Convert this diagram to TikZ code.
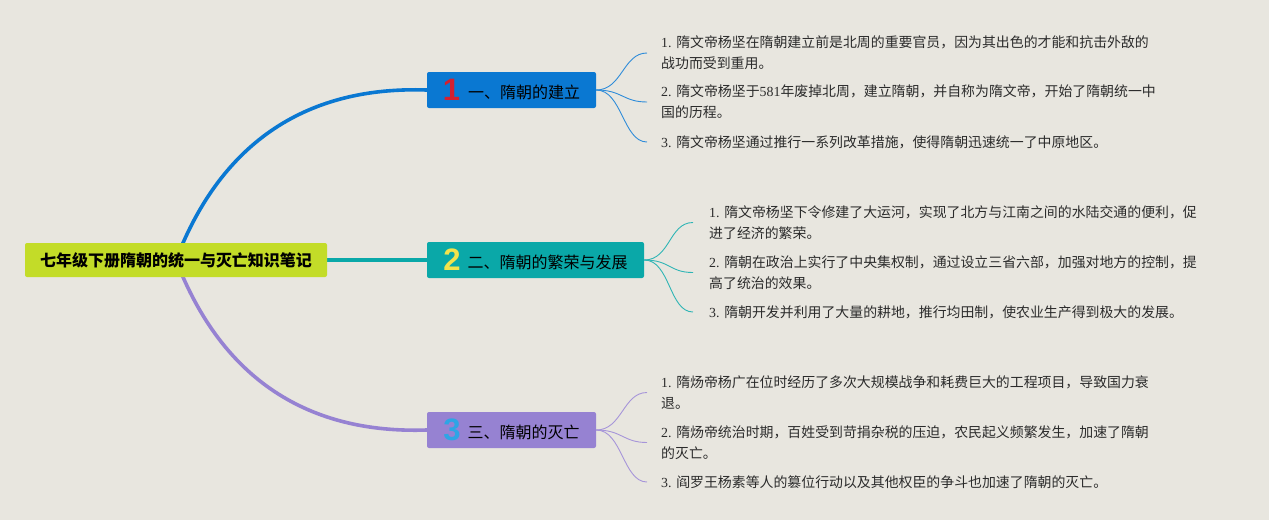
\documentclass[tikz,border=0pt]{standalone}
\usepackage{fontspec}
\setmainfont{Liberation Serif}
\newfontfamily\cjk{Noto Sans CJK SC}
\newfontfamily\numfont{Liberation Sans}
\usetikzlibrary{backgrounds}
\newcommand\latn[1]{{\rmfamily #1}}
\definecolor{bgc}{HTML}{E8E6DF}
\definecolor{rootc}{HTML}{C3DC28}
\definecolor{bluec}{HTML}{0A78D2}
\definecolor{tealc}{HTML}{0AA8A8}
\definecolor{purpc}{HTML}{9682D2}
\definecolor{redn}{HTML}{D42030}
\definecolor{yeln}{HTML}{F2E34C}
\definecolor{bluen}{HTML}{2EA5E5}
\definecolor{txt}{HTML}{2B2B2B}
\begin{document}
\begin{tikzpicture}[x=1pt,y=-1pt,
  rootbox/.style={fill=rootc, rounded corners=2pt, minimum width=302pt, minimum height=34pt, inner sep=0pt,
    font=\cjk\bfseries\fontsize{16}{18}\selectfont, text=black},
  branchbox/.style={rounded corners=2pt, minimum height=36pt, inner sep=0pt,
    font=\cjk\fontsize{16}{18}\selectfont, text=black},
  leaf/.style={anchor=west, align=left, inner sep=0pt, text=txt,
    font=\cjk\fontsize{13.9}{20.8}\selectfont},
  mainline/.style={line width=3.6pt},
  leafline/.style={line width=0.9pt}
]
\useasboundingbox (0,0) rectangle (1269,520);
% root
\node[rootbox] (root) at (176,260) {七年级下册隋朝的统一与灭亡知识笔记};
% branches
\node[branchbox, fill=bluec, minimum width=169pt] (b1) at (511.5,90)
  {\raisebox{-2pt}{\textcolor{redn}{\numfont\bfseries\fontsize{31}{31}\selectfont 1}}\hspace{8pt}一、隋朝的建立};
\node[branchbox, fill=tealc, minimum width=217pt] (b2) at (535.5,260)
  {\raisebox{-2pt}{\textcolor{yeln}{\numfont\bfseries\fontsize{31}{31}\selectfont 2}}\hspace{7pt}二、隋朝的繁荣与发展};
\node[branchbox, fill=purpc, minimum width=169pt] (b3) at (511.5,430)
  {\raisebox{-2pt}{\textcolor{bluen}{\numfont\bfseries\fontsize{31}{31}\selectfont 3}}\hspace{7pt}三、隋朝的灭亡};
% leaves branch 1
\node[leaf] (l11) at (661,53) {\latn{1. }隋文帝杨坚在隋朝建立前是北周的重要官员，因为其出色的才能和抗击外敌的\\战功而受到重用。};
\node[leaf] (l12) at (661,102) {\latn{2. }隋文帝杨坚于\latn{581}年废掉北周，建立隋朝，并自称为隋文帝，开始了隋朝统一中\\国的历程。};
\node[leaf] (l13) at (661,142) {\latn{3. }隋文帝杨坚通过推行一系列改革措施，使得隋朝迅速统一了中原地区。};
% leaves branch 2
\node[leaf] (l21) at (709,222.5) {\latn{1. }隋文帝杨坚下令修建了大运河，实现了北方与江南之间的水陆交通的便利，促\\进了经济的繁荣。};
\node[leaf] (l22) at (709,272.5) {\latn{2. }隋朝在政治上实行了中央集权制，通过设立三省六部，加强对地方的控制，提\\高了统治的效果。};
\node[leaf] (l23) at (709,312) {\latn{3. }隋朝开发并利用了大量的耕地，推行均田制，使农业生产得到极大的发展。};
% leaves branch 3
\node[leaf] (l31) at (661,392.5) {\latn{1. }隋炀帝杨广在位时经历了多次大规模战争和耗费巨大的工程项目，导致国力衰\\退。};
\node[leaf] (l32) at (661,442.5) {\latn{2. }隋炀帝统治时期，百姓受到苛捐杂税的压迫，农民起义频繁发生，加速了隋朝\\的灭亡。};
\node[leaf] (l33) at (661,482) {\latn{3. }阎罗王杨素等人的篡位行动以及其他权臣的争斗也加速了隋朝的灭亡。};
\begin{scope}[on background layer]
\fill[bgc] (0,0) rectangle (1269,520);
\draw[mainline, bluec] (root.center) .. controls (222,140) and (309,86) .. (b1.west);
\draw[mainline, purpc] (root.center) .. controls (222,380) and (309,434) .. (b3.west);
\draw[mainline, tealc] (root.east) -- (b2.west);
\foreach \l in {l11,l12,l13}
  \draw[leafline, bluec!85!white] (b1.east) .. controls +(26,0) and +(-24,0) .. ([xshift=-14pt]\l.west);
\foreach \l in {l21,l22,l23}
  \draw[leafline, tealc!85!white] (b2.east) .. controls +(26,0) and +(-24,0) .. ([xshift=-16pt]\l.west);
\foreach \l in {l31,l32,l33}
  \draw[leafline, purpc!85!white] (b3.east) .. controls +(26,0) and +(-24,0) .. ([xshift=-14pt]\l.west);
\end{scope}
\end{tikzpicture}
\end{document}
